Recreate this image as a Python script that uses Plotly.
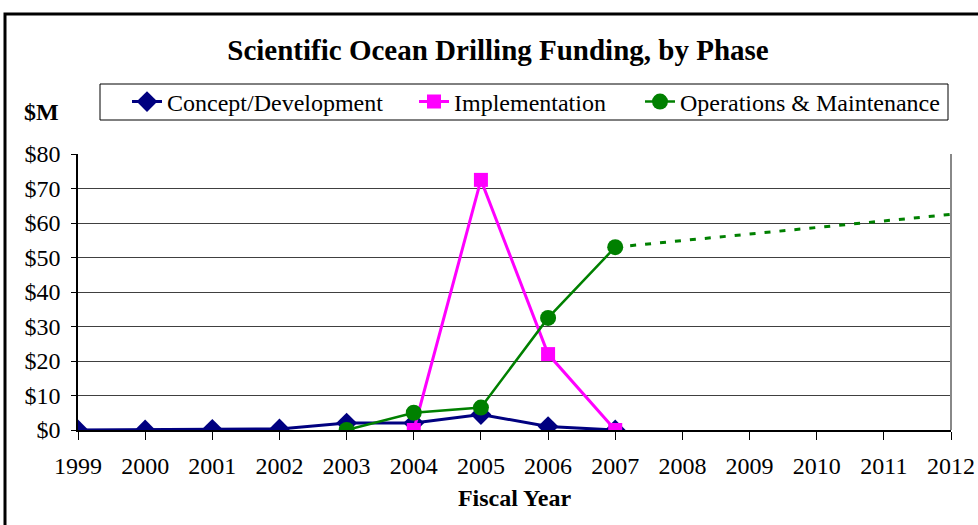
import plotly.graph_objects as go

years = [1999, 2000, 2001, 2002, 2003, 2004, 2005, 2006, 2007]
concept = [0, 0, 0.2, 0.3, 2, 2, 4.5, 1, 0]
impl_years = [2004, 2005, 2006, 2007]
implementation = [0, 72.5, 22, 0]
om_years = [2003, 2004, 2005, 2006, 2007]
operations = [0, 5, 6.5, 32.5, 53]
proj_years = [2007, 2012]
projection = [53, 62.5]
x_ticks = list(range(1999, 2013))
y_ticks = [0, 10, 20, 30, 40, 50, 60, 70, 80]
y_ticktext = ["$" + str(v) for v in y_ticks]

FONT = "Liberation Serif, Times New Roman, serif"

W, H = 978, 525
L, R, T, B = 78, 27, 154, 95
pw, ph = W - L - R, H - T - B

def px(x):
    return (x - L) / pw

def py(y):
    return (H - B - y) / ph

fig = go.Figure()
fig.add_trace(go.Scatter(x=proj_years, y=projection, mode="lines",
                         line=dict(color="#008000", width=3, dash="6px,9px"),
                         showlegend=False, hoverinfo="skip"))
fig.add_trace(go.Scatter(x=years, y=concept, mode="lines+markers", name="Concept/Development",
                         line=dict(color="#000080", width=3), legend="legend",
                         marker=dict(symbol="diamond", size=16, color="#000080")))
fig.add_trace(go.Scatter(x=impl_years, y=implementation, mode="lines+markers", name="Implementation",
                         line=dict(color="#FF00FF", width=3), legend="legend2",
                         marker=dict(symbol="square", size=14, color="#FF00FF")))
fig.add_trace(go.Scatter(x=om_years, y=operations, mode="lines+markers", name="Operations & Maintenance",
                         line=dict(color="#008000", width=2.5), legend="legend3",
                         marker=dict(symbol="circle", size=16, color="#008000")))

def leg(xpix):
    return dict(orientation="h", x=px(xpix), y=py(102), xanchor="left", yanchor="middle",
                bgcolor="rgba(0,0,0,0)", borderwidth=0,
                font=dict(size=24, family=FONT), itemwidth=30)

fig.update_layout(
    width=W, height=H,
    margin=dict(l=L, r=R, t=T, b=B, autoexpand=False),
    paper_bgcolor="white", plot_bgcolor="white",
    font=dict(family=FONT, size=24, color="black"),
    title=dict(text="<b>Scientific Ocean Drilling Funding, by Phase</b>",
               x=px(498), xref="paper", xanchor="center",
               y=1 - 50 / H, yref="container", yanchor="middle",
               font=dict(size=29, family=FONT)),
    legend=leg(127), legend2=leg(414), legend3=leg(640),
    xaxis=dict(range=[1999, 2012], tickvals=x_ticks, ticktext=[str(v) for v in x_ticks],
               showgrid=False, showline=True, linecolor="black", linewidth=1.5,
               ticks="outside", ticklen=8, tickcolor="black", mirror=False,
               zeroline=False, fixedrange=True, automargin=False, ticklabelstandoff=5,
               title=dict(text="<b>Fiscal Year</b>", font=dict(size=24, family=FONT), standoff=12)),
    yaxis=dict(range=[0, 80], tickvals=y_ticks, ticktext=y_ticktext,
               showgrid=True, gridcolor="#404040", gridwidth=1,
               showline=True, linecolor="black", linewidth=1.5,
               ticks="outside", ticklen=5, tickcolor="black", automargin=False,
               ticklabelstandoff=6,
               zeroline=False, fixedrange=True),
    annotations=[dict(text="<b>$M</b>", x=px(41), y=py(112), xref="paper", yref="paper",
                      showarrow=False, font=dict(size=24, family=FONT),
                      xanchor="center", yanchor="middle")],
    shapes=[
        dict(type="line", xref="paper", yref="paper", x0=1, x1=1, y0=0, y1=1,
             line=dict(color="#888888", width=2)),
        dict(type="rect", xref="paper", yref="paper", x0=px(100), x1=px(948), y0=py(120), y1=py(84),
             line=dict(color="black", width=1), layer="below"),
        dict(type="rect", xref="paper", yref="paper", x0=px(5), x1=px(990), y0=py(540), y1=py(14),
             line=dict(color="black", width=3)),
    ],
)

fig.write_html("out.html", config={"displayModeBar": False},
               post_script="document.body.style.margin='0';document.body.style.padding='0';")
